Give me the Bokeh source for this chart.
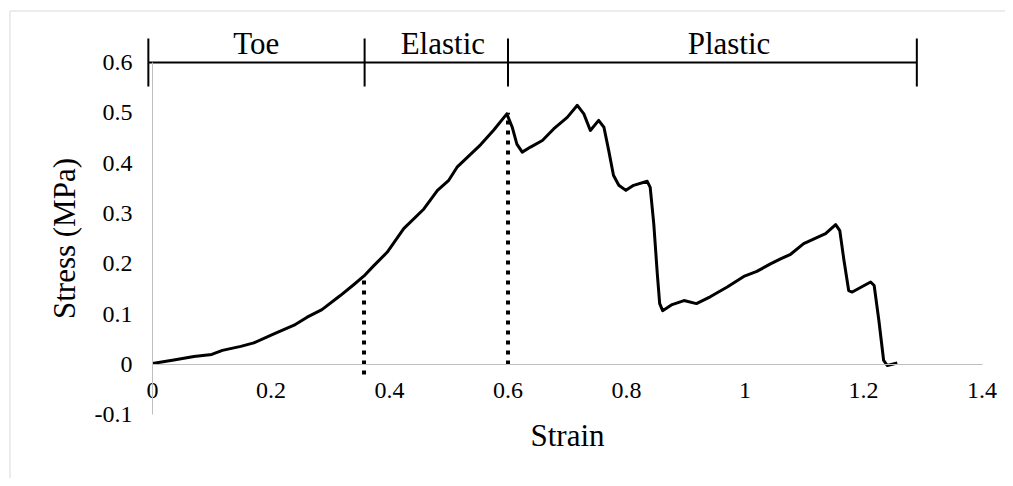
from bokeh.plotting import figure
from bokeh.models import Range1d, FixedTicker, CustomJSTickFormatter, LinearAxis
from bokeh.core.properties import value
from bokeh.embed import file_html
from bokeh.resources import INLINE

# ---------------- data ----------------
strain = [0.000, 0.036, 0.070, 0.100, 0.118, 0.149, 0.171, 0.205, 0.239, 0.261,
          0.286, 0.317, 0.340, 0.357, 0.374, 0.396, 0.424, 0.458, 0.481, 0.500,
          0.514, 0.554, 0.576, 0.598, 0.607, 0.615, 0.624, 0.638, 0.658, 0.677,
          0.700, 0.717, 0.728, 0.739, 0.753, 0.762, 0.770, 0.778, 0.787, 0.799,
          0.812, 0.835, 0.840, 0.846, 0.852, 0.856, 0.861, 0.877, 0.897, 0.918,
          0.942, 0.970, 0.998, 1.020, 1.043, 1.060, 1.077, 1.099, 1.136, 1.153,
          1.160, 1.167, 1.175, 1.181, 1.212, 1.218, 1.226, 1.234, 1.240, 1.257]
stress = [0.002, 0.009, 0.016, 0.020, 0.028, 0.036, 0.043, 0.061, 0.078, 0.094,
          0.109, 0.137, 0.159, 0.176, 0.197, 0.223, 0.270, 0.309, 0.346, 0.366,
          0.392, 0.437, 0.466, 0.498, 0.472, 0.438, 0.422, 0.432, 0.445, 0.468,
          0.491, 0.515, 0.498, 0.465, 0.485, 0.471, 0.425, 0.376, 0.356, 0.346,
          0.356, 0.364, 0.352, 0.280, 0.180, 0.121, 0.107, 0.119, 0.127, 0.121,
          0.135, 0.154, 0.175, 0.185, 0.200, 0.210, 0.219, 0.240, 0.260, 0.278,
          0.266, 0.207, 0.147, 0.144, 0.164, 0.157, 0.087, 0.008, -0.002, 0.003]

x_ticks = [0, 0.2, 0.4, 0.6, 0.8, 1.0, 1.2, 1.4]
y_ticks = [-0.1, 0, 0.1, 0.2, 0.3, 0.4, 0.5, 0.6]

phase_names = ["Toe", "Elastic", "Plastic"]
phase_edges = [-0.007, 0.358, 0.6, 1.29]
phase_label_x = [0.175, 0.49, 0.973]
bracket_level = 0.6

marker_x = [0.357, 0.6]
marker_bottom = [-0.02, 0.0]
marker_top = [0.176, 0.5]

# ---------------- layout ----------------
W, H = 1005, 478
ORIGIN_X, ORIGIN_Y = 152, 364      # canvas pixel of data (0, 0)
SX, SY = 592.5, 503.3              # pixels per data unit

x_range = Range1d(-ORIGIN_X / SX, (W - ORIGIN_X) / SX)
y_range = Range1d(-(H - ORIGIN_Y) / SY, ORIGIN_Y / SY)

FONT = "Liberation Serif"

p = figure(width=W, height=H, x_range=x_range, y_range=y_range,
           output_backend="svg", toolbar_location=None,
           x_axis_type=None, y_axis_type=None, min_border=0)
p.outline_line_color = None
p.background_fill_color = "white"
p.border_fill_color = "white"

fmt = CustomJSTickFormatter(code="return String(parseFloat(tick.toFixed(1)));")


def style_axis(ax, standoff, title_standoff):
    ax.axis_line_color = "#bfbfbf"
    ax.axis_line_width = 1
    ax.major_tick_line_color = None
    ax.minor_tick_line_color = None
    ax.major_tick_in = 0
    ax.major_tick_out = 0
    ax.minor_tick_in = 0
    ax.minor_tick_out = 0
    ax.major_label_text_font = FONT
    ax.major_label_text_font_size = "24px"
    ax.major_label_text_color = "black"
    ax.major_label_standoff = standoff
    ax.axis_label_text_font = FONT
    ax.axis_label_text_font_size = "31px"
    ax.axis_label_text_font_style = "normal"
    ax.axis_label_text_color = "black"
    ax.axis_label_standoff = title_standoff


xaxis = LinearAxis(fixed_location=0, bounds=(x_ticks[0], x_ticks[-1]),
                   ticker=FixedTicker(ticks=x_ticks), formatter=fmt,
                   axis_label="Strain")
style_axis(xaxis, 18, 17)
p.add_layout(xaxis, "below")

yaxis = LinearAxis(fixed_location=0, bounds=(y_ticks[0], y_ticks[-1]),
                   ticker=FixedTicker(ticks=y_ticks), formatter=fmt,
                   axis_label="Stress (MPa)")
style_axis(yaxis, 20, 10)
p.add_layout(yaxis, "left")

# chart-area border (left and top edges visible in the reference)
bx = x_range.start + 9.5 / SX
by = y_range.end - 10.5 / SY
p.segment(x0=[bx, bx], y0=[y_range.start, by], x1=[bx, x_range.end], y1=[by, by],
          line_color="#d9d9d9", line_width=1)

# phase boundary dotted markers
p.segment(x0=marker_x, y0=marker_bottom, x1=marker_x, y1=marker_top,
          line_color="black", line_width=4, line_dash="4 6")

# stress-strain curve
p.line(strain, stress, line_color="black", line_width=3, line_join="round")

# phase bracket
TICK_HALF = 24 / SY
p.segment(x0=[phase_edges[0]], y0=[bracket_level], x1=[phase_edges[-1]], y1=[bracket_level],
          line_color="black", line_width=2)
p.segment(x0=phase_edges, y0=[bracket_level - TICK_HALF] * len(phase_edges),
          x1=phase_edges, y1=[bracket_level + TICK_HALF] * len(phase_edges),
          line_color="black", line_width=2)
p.text(x=phase_label_x, y=[bracket_level + 2 / SY] * len(phase_names), text=phase_names,
       text_align="center", text_baseline="bottom",
       text_font=value(FONT), text_font_size="31px", text_color="black")

open("out.html", "w").write(file_html(p, INLINE))
